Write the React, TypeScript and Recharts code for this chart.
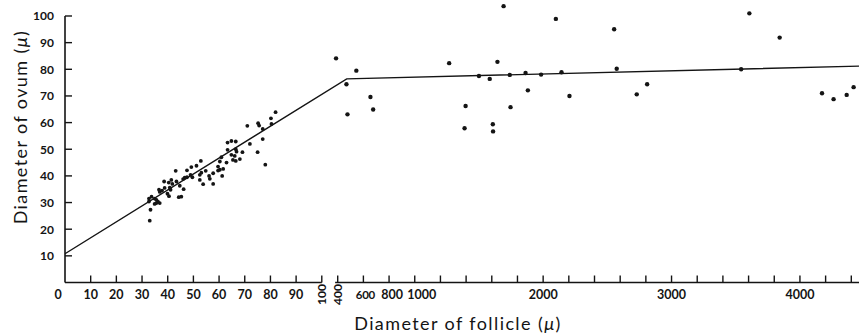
import React from "react";
import { ComposedChart, Scatter, XAxis, YAxis, ReferenceLine } from "recharts";

// Follicles up to 100 µ (expanded left part of the axis)
const smallFollicle = [
  82, 80.2, 80.4, 75.2, 75.6, 71, 77, 77, 72, 63.3, 64.8, 66.5, 66.5, 66.8, 63.3, 75, 69.1, 64.8, 66.1,
  60.9, 60.3, 68.1, 65.4, 66.5, 62.9, 78, 59.6, 61.6, 60.3, 59.6, 57.7, 61.2, 52.9, 51.2, 49.2, 47.5,
  43.1, 54.8, 53.1, 52.5, 48.9, 49.6, 47.5, 46.6, 46, 52.5, 56.1, 56.4, 53.8, 57.7, 43.4, 38.6, 40.4,
  41.4, 41.8, 44.7, 46.2, 36.6, 36.9, 37.8, 38.8, 40.8, 41.1, 39.9, 45.3, 44.3, 40.5, 33.7, 32.7, 34.9,
  35.6, 36.2, 35.6, 32.7, 34.9, 36.9, 33.3, 33,
];
const smallOvum = [
  63.9, 61.6, 59.5, 59.8, 58.9, 58.8, 57.6, 53.8, 52, 52.5, 53.1, 52.9, 50, 49.1, 49.8, 48.9, 48.9, 47.9,
  47.5, 47, 45.4, 46.3, 46, 45.6, 45, 44.2, 43.5, 42.6, 42.3, 42, 41, 40, 45.6, 43.8, 43.3, 42.1, 41.9,
  41.9, 41.2, 40.4, 40.4, 39.5, 39.5, 39.3, 38.8, 38.5, 40, 38.9, 36.9, 37, 37.9, 37.9, 37.5, 38.5, 37,
  36.3, 35, 34.8, 34, 34.5, 35.5, 35.6, 34.8, 33.3, 32.2, 32, 32.4, 32.2, 31.5, 31.5, 31, 30.3, 29.8,
  30.4, 29.5, 29.8, 27.3, 23.2,
];

// Follicles from 400 µ upward (compressed right part of the axis)
const largeFollicle = [
  387, 545, 468, 655, 676, 476, 1268, 1396, 1388, 1500, 1584, 1644, 1692, 1740, 1746, 1608, 1610, 1863,
  1881, 1984, 2099, 2143, 2205, 2553, 2573, 2729, 2810, 3542, 3606, 3842, 4172, 4262, 4364, 4418,
];
const largeOvum = [
  84.1, 79.5, 74.4, 69.6, 64.9, 63.1, 82.3, 66.2, 57.9, 77.5, 76.4, 82.8, 103.7, 77.9, 65.8, 59.4, 56.7,
  78.6, 72.1, 78, 98.9, 78.9, 70, 95, 80.2, 70.6, 74.4, 80, 101, 91.9, 71, 68.8, 70.4, 73.3,
];

// Fitted line: steep rise, then nearly flat
const fitFollicle = [0, 470, 4460];
const fitOvum = [10.8, 76.4, 81.2];

const leftTicks = [0, 10, 20, 30, 40, 50, 60, 70, 80, 90, 100];
const rightTicks = [
  400, 600, 800, 1000, 1200, 1400, 1600, 1800, 2000, 2200, 2400, 2600, 2800, 3000, 3200, 3400, 3600,
  3800, 4000, 4200, 4400,
];
const rightLabels = [400, 600, 800, 1000, 2000, 3000, 4000];
const ovumTicks = [10, 20, 30, 40, 50, 60, 70, 80, 90, 100];

// Broken axis: 0-100 drawn as is, 400+ compressed 20x after a small gap
const BREAK_AT = 106.2;
const SQUEEZE = 20;
const toAxis = (f: number) => (f <= 100 ? f : BREAK_AT + (f - 400) / SQUEEZE);
const X_MAX = 309.2;

const smallPoints = smallFollicle.map((f, i) => ({ u: toAxis(f), o: smallOvum[i] }));
const largePoints = largeFollicle.map((f, i) => ({ u: toAxis(f), o: largeOvum[i] }));
const fitPoints = fitFollicle.map((f, i) => ({ u: toAxis(f), o: fitOvum[i] }));

type TickItem = { u: number; label: string; mark: boolean; rotate: boolean; shift: number };
// crowded labels just after the break are nudged apart
const labelShift: Record<number, number> = { 0: -7, 600: 2, 800: 3, 1000: 7 };
const xTickItems: TickItem[] = [
  ...leftTicks.map((v) => ({
    u: v,
    label: String(v),
    mark: v > 0,
    rotate: v === 100,
    shift: labelShift[v] ?? 0,
  })),
  ...rightTicks.map((v) => ({
    u: toAxis(v),
    label: rightLabels.includes(v) ? String(v) : "",
    mark: true,
    rotate: v === 400,
    shift: labelShift[v] ?? 0,
  })),
];

const INK = "#141414";
const TICK_FONT = "Lato, 'Open Sans', sans-serif";

const XTick = (props: any) => {
  const { x, y, payload } = props;
  const item = xTickItems.find((t) => Math.abs(t.u - payload.value) < 1e-6);
  if (!item) return null;
  const small = item.u > 100 && item.u < 120;
  return (
    <g>
      {item.mark && <line x1={x} y1={y} x2={x} y2={y - 7} stroke={INK} strokeWidth={1.4} />}
      {item.label &&
        (item.rotate ? (
          <text
            x={x}
            y={y + 12}
            transform={`rotate(-90 ${x} ${y + 12})`}
            textAnchor="middle"
            dominantBaseline="central"
            fontFamily={TICK_FONT}
            fontWeight={700}
            fontSize={12}
            fill={INK}
          >
            {item.label}
          </text>
        ) : (
          <text
            x={x + item.shift}
            y={y + 16}
            textAnchor="middle"
            fontFamily={TICK_FONT}
            fontWeight={700}
            fontSize={small ? 11.5 : 12.5}
            letterSpacing={small ? -0.3 : 0}
            fill={INK}
          >
            {item.label}
          </text>
        ))}
    </g>
  );
};

const YTick = (props: any) => {
  const { x, y, payload } = props;
  return (
    <g>
      <line x1={x} y1={y} x2={x + 7} y2={y} stroke={INK} strokeWidth={1.4} />
      <text
        x={x - 11}
        y={y}
        textAnchor="end"
        dominantBaseline="central"
        fontFamily={TICK_FONT}
        fontWeight={700}
        fontSize={12}
        fill={INK}
      >
        {payload.value}
      </text>
    </g>
  );
};

const dot = (r: number) => (p: any) => <circle cx={p.cx} cy={p.cy} r={r} fill={INK} />;

export default function App() {
  return (
    <div style={{ position: "absolute", left: 0, top: 0, background: "#fff" }}>
      <ComposedChart width={859} height={334} margin={{ top: 0, right: 0, bottom: 0, left: 0 }}>
        <XAxis
          dataKey="u"
          type="number"
          domain={[0, X_MAX]}
          ticks={xTickItems.map((t) => t.u)}
          interval={0}
          height={51.5}
          tickSize={0}
          tickMargin={0}
          axisLine={false}
          tickLine={false}
          tick={<XTick />}
          allowDataOverflow
        />
        <YAxis
          dataKey="o"
          type="number"
          domain={[0, 106]}
          ticks={ovumTicks}
          interval={0}
          width={65}
          tickSize={0}
          tickMargin={0}
          axisLine={false}
          tickLine={false}
          tick={<YTick />}
          allowDataOverflow
        />
        {/* axis lines, with the break between 100 and 400 */}
        <ReferenceLine segment={[{ x: 0, y: 0 }, { x: 0, y: 100 }]} stroke={INK} strokeWidth={1.6} />
        <ReferenceLine segment={[{ x: 0, y: 0 }, { x: 100, y: 0 }]} stroke={INK} strokeWidth={1.6} />
        <ReferenceLine
          segment={[{ x: toAxis(380), y: 0 }, { x: X_MAX, y: 0 }]}
          stroke={INK}
          strokeWidth={1.6}
        />
        <Scatter
          data={fitPoints}
          line={{ stroke: INK, strokeWidth: 1.4 }}
          shape={() => <g />}
          isAnimationActive={false}
        />
        <Scatter data={smallPoints} shape={dot(1.9)} isAnimationActive={false} />
        <Scatter data={largePoints} shape={dot(2.2)} isAnimationActive={false} />
        <text
          x={458}
          y={330}
          textAnchor="middle"
          fontFamily="Lato, sans-serif"
          fontSize={18}
          letterSpacing={1.4}
          fill={INK}
        >
          Diameter of follicle (<tspan fontStyle="italic">μ</tspan>)
        </text>
        <text
          x={20}
          y={127}
          transform="rotate(-90 20 127)"
          textAnchor="middle"
          dominantBaseline="central"
          fontFamily="Lato, sans-serif"
          fontSize={18}
          letterSpacing={1.4}
          fill={INK}
        >
          Diameter of ovum (<tspan fontStyle="italic">μ</tspan>)
        </text>
      </ComposedChart>
    </div>
  );
}
